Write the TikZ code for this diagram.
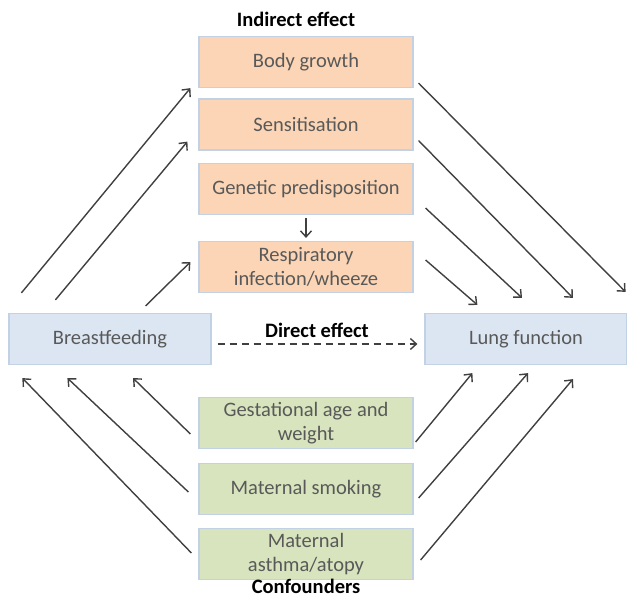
\documentclass[tikz,border=0pt]{standalone}
\usepackage{fontspec}
\setmainfont{Carlito}
\usepackage{xcolor}
\usetikzlibrary{arrows.meta}

\definecolor{boxorange}{HTML}{FBD5B5}
\definecolor{boxblue}{HTML}{DCE6F2}
\definecolor{boxgreen}{HTML}{D7E4BD}
\definecolor{boxline}{HTML}{C3D1E4}
\definecolor{boxtext}{HTML}{595959}
\definecolor{arrowgray}{HTML}{404040}

\tikzset{
  box/.style={draw=boxline, line width=1.2, minimum width=214, minimum height=51, text=boxtext, align=center, font=\fontsize{20.5}{24.5}\selectfont},
  mediator/.style={box, fill=boxorange},
  endbox/.style={box, fill=boxblue, minimum width=202},
  confounder/.style={box, fill=boxgreen},
  heading/.style={anchor=base, inner sep=0.5pt, font=\fontsize{20.5}{24.5}\selectfont\bfseries},
  link/.style={-{Straight Barb[length=6pt, width=11pt]}, line width=1.4, color=arrowgray}
}

\begin{document}
\begin{tikzpicture}[x=1pt, y=-1pt]

\useasboundingbox (0,0) rectangle (627,597);

% indirect effect nodes

\node[heading] (indirect) at (296, 26) {Indirect effect};
\node[mediator] (body) at (306, 62) {Body growth};
\node[mediator] (sens) at (306, 124.5) {Sensitisation};
\node[mediator] (gen) at (306, 189) {Genetic predisposition};
\node[mediator] (resp) at (306, 267) {Respiratory\\infection/wheeze};

% exposure and outcome

\node[endbox] (breast) at (110, 339) {Breastfeeding};
\node[endbox] (lung) at (526, 339) {Lung function};
\node[heading] (direct) at (317, 337) {Direct effect};

% confounders

\node[confounder] (gest) at (306, 423) {Gestational age and\\weight};
\node[confounder] (smoke) at (306, 489) {Maternal smoking};
\node[confounder] (asthma) at (306, 554) {Maternal\\asthma/atopy};
\node[heading] (conf) at (306, 593) {Confounders};


% breastfeeding to mediators
\draw [link] ([shift={(13,-20)}]breast.north west) -- ([shift={(-8,0)}]body.south west);
\draw [link] ([shift={(47,-13)}]breast.north west) -- ([shift={(-11,-9)}]sens.south west);
\draw [link] ([shift={(-66,-7)}]breast.north east) -- ([shift={(-8,-5)}]resp.west);

\draw [link] ([shift={(0,3)}]gen.south) -- ([shift={(0,-3)}]resp.north);

% mediators to lung function
\draw [link] ([shift={(5,-5)}]body.south east) -- ([shift={(-2,-21)}]lung.north east);
\draw [link] ([shift={(5,-10)}]sens.south east) -- ([shift={(47,-15)}]lung.north);
\draw [link] ([shift={(12,-7)}]gen.south east) -- ([shift={(-4,-15)}]lung.north);
\draw [link] ([shift={(12,-7)}]resp.east) -- ([shift={(53,-8)}]lung.north west);

% direct effect
\draw [link, dash pattern=on 7pt off 5pt] ([shift={(6,5)}]breast.east) -- ([shift={(-7,5)}]lung.west);

% confounders to breastfeeding
\draw [link] ([shift={(-8,11)}]gest.west) -- ([shift={(23,13)}]breast.south);
\draw [link] ([shift={(-10,3)}]smoke.west) -- ([shift={(59,13)}]breast.south west);
\draw [link] ([shift={(-7,-1)}]asthma.west) -- ([shift={(14,13)}]breast.south west);

% confounders to lung function
\draw [link] ([shift={(2,19)}]gest.east) -- ([shift={(48,8)}]lung.south west);
\draw [link] ([shift={(5,9)}]smoke.east) -- ([shift={(2,8)}]lung.south);
\draw [link] ([shift={(7,6)}]asthma.east) -- ([shift={(47,14)}]lung.south);

\end{tikzpicture}
\end{document}
